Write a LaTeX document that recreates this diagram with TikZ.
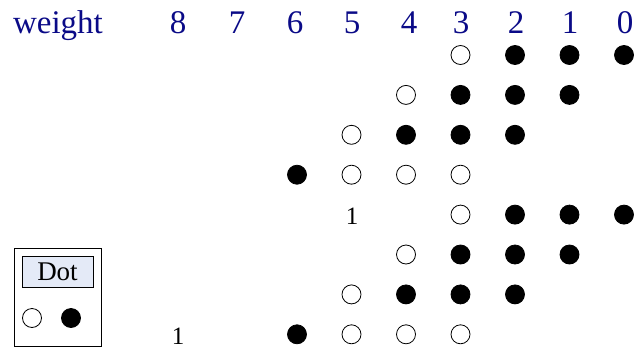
\documentclass[tikz,border=0pt]{standalone}
\usepackage{fontspec}
\setmainfont{Liberation Serif}
\definecolor{weightblue}{RGB}{10,10,135}
\definecolor{legendfill}{RGB}{228,234,247}

\begin{document}
\begin{tikzpicture}[
  x=1pt, y=-1pt,
  hdr/.style={text=weightblue, font=\fontsize{33}{36}\selectfont, inner sep=0pt, anchor=base},
  num/.style={font=\fontsize{25}{27}\selectfont, inner sep=0pt, anchor=base},
  dot/.style={circle, draw=black, line width=0.8pt, minimum size=19pt, inner sep=0pt},
  frame/.style={draw=black, line width=0.8pt, inner sep=0pt}
]
\useasboundingbox (0,0) rectangle (637,351);

% header row
\node[hdr] (weight) at (58,33) {weight};
\foreach \w/\x in {8/178,7/237,6/295,5/352,4/409,3/461,2/516,1/570,0/625} {
  \node[hdr] (w\w) at (\x,33) {\w};
}

% dots, row by row (column/fill)
\foreach \r/\cells in {
    1/{3/white,2/black,1/black,0/black},
    2/{4/white,3/black,2/black,1/black},
    3/{5/white,4/black,3/black,2/black},
    4/{6/black,5/white,4/white,3/white},
    5/{3/white,2/black,1/black,0/black},
    6/{4/white,3/black,2/black,1/black},
    7/{5/white,4/black,3/black,2/black},
    8/{6/black,5/white,4/white,3/white}} {
  \foreach \c/\f in \cells {
    \pgfmathsetmacro\cx{624-54.5*\c}
    \pgfmathsetmacro\cy{55+39.9*(\r-1)}
    \node[dot, fill=\f] (d\r-\c) at (\cx,\cy) {};
  }
}

% carries
\node[num] (carry5) at (352,224) {1};
\node[num] (carry8) at (178,344) {1};

% legend
\node[frame, minimum width=87pt, minimum height=98pt] (legend) at (57.5,297) {};
\node[frame, fill=legendfill, minimum width=71pt, minimum height=31pt,
  font=\fontsize{27}{29}\selectfont] (legendtitle) at (57.5,272) {Dot};
\node[dot, fill=white] (legendopen) at (32,318) {};
\node[dot, fill=black] (legendfull) at (71,318) {};

\end{tikzpicture}
\end{document}
